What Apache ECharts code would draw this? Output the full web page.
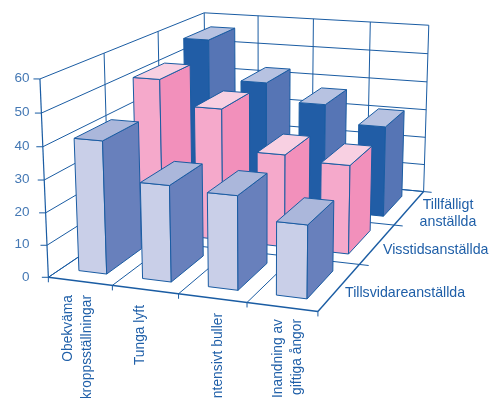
<!DOCTYPE html>
<html>
<head>
<meta charset="utf-8">
<style>html,body{margin:0;padding:0;background:#fff}#c{width:489px;height:398px}</style>
<script src="https://cdn.jsdelivr.net/npm/echarts@6/dist/echarts.min.js"></script>
</head>
<body>
<div id="c"></div>
<script>
// Exposure to work-environment factors by type of employment
const categories = ['Obekväma kroppsställningar', 'Tunga lyft', 'Intensivt buller', 'Inandning av giftiga ångor'];
const employment = ['Tillfälligt anställda', 'Visstidsanställda', 'Tillsvidareanställda'];
const valueTicks = [0, 10, 20, 30, 40, 50, 60];
const temporary = [56.5, 43, 37, 31];
const fixedTerm = [51, 43, 30, 28.5];
const permanent = [41, 29.5, 28.5, 22];

const LINE = '#1a5ca3';
const FONT = '14.2px "Liberation Sans", Arial, sans-serif';
const ROT_FONT = '13.8px "Liberation Sans", Arial, sans-serif';
const TICK_FONT = '13.5px "Liberation Sans", Arial, sans-serif';
const BAR_GAP_X = 0.28, BAR_GAP_Z = 0.2;

// Perspective camera fitted to the plot box: [column, depth, value] -> [px, py]
const frameAnchors = [
  [0,0,0,49,277],[1,0,0,111.7,286],[2,0,0,179,294],[3,0,0,246.7,302.7],[4,0,0,318.5,311],
  [4,1,0,359,264],[4,2,0,393,226],[4,3,0,424,191],
  [0,0,30,44,180],[0,0,60,39.5,79],[4,3,30,427,109.3],[4,3,60,428.7,25.3],
  [0,1,60,105,52.7],[0,2,60,158,31],[0,3,60,204,13],
  [1,3,60,257.7,15.7],[2,3,60,313.7,19.3],[3,3,60,370,22.3]
];
function solve(A, b) {
  const n = b.length;
  for (let i = 0; i < n; i++) {
    let m = i;
    for (let r = i + 1; r < n; r++) if (Math.abs(A[r][i]) > Math.abs(A[m][i])) m = r;
    [A[i], A[m]] = [A[m], A[i]]; [b[i], b[m]] = [b[m], b[i]];
    for (let r = i + 1; r < n; r++) {
      const f = A[r][i] / A[i][i];
      for (let c = i; c < n; c++) A[r][c] -= f * A[i][c];
      b[r] -= f * b[i];
    }
  }
  const x = new Array(n).fill(0);
  for (let i = n - 1; i >= 0; i--) {
    let s = b[i];
    for (let c = i + 1; c < n; c++) s -= A[i][c] * x[c];
    x[i] = s / A[i][i];
  }
  return x;
}
function fitCamera(pts) {
  const rows = [], rhs = [];
  pts.forEach(([cx, cz, cv, u0, v0]) => {
    const X = cx / 4, Z = cz / 3, Y = cv / 60, u = u0 / 400, v = v0 / 400;
    rows.push([X, Z, Y, 1, 0, 0, 0, 0, -u * X, -u * Z, -u * Y]); rhs.push(u);
    rows.push([0, 0, 0, 0, X, Z, Y, 1, -v * X, -v * Z, -v * Y]); rhs.push(v);
  });
  const N = [], t = [];
  for (let i = 0; i < 11; i++) {
    N.push([]);
    t.push(rows.reduce((s, r, k) => s + r[i] * rhs[k], 0));
    for (let j = 0; j < 11; j++) N[i].push(rows.reduce((s, r) => s + r[i] * r[j], 0));
  }
  return solve(N, t);
}
const cam = fitCamera(frameAnchors);
function project(cx, cz, cv) {
  const X = cx / 4, Z = cz / 3, Y = cv / 60;
  const w = cam[8] * X + cam[9] * Z + cam[10] * Y + 1;
  return [400 * (cam[0] * X + cam[1] * Z + cam[2] * Y + cam[3]) / w,
          400 * (cam[4] * X + cam[5] * Z + cam[6] * Y + cam[7]) / w];
}

function seg(a, b, width, color) {
  return { type: 'line', shape: { x1: a[0], y1: a[1], x2: b[0], y2: b[1] },
           style: { stroke: color || LINE, lineWidth: width || 1, fill: null } };
}
function label(text, x, y, align, color, rotation, font) {
  return { type: 'text', x, y, rotation: rotation || 0,
           style: { text, x: 0, y: 0, align, verticalAlign: 'middle', font: font || FONT, fill: color || '#1f5fa8' } };
}

// Walls, floor, ticks and axis labels
function renderFrame() {
  const out = [];
  valueTicks.forEach(v => {
    out.push(seg(project(0, 0, v), project(0, 3, v)));
    out.push(seg(project(0, 3, v), project(4, 3, v)));
    const p = project(0, 0, v);
    out.push(seg([p[0] - 6.5, p[1]], p));
    out.push(label(String(v), 29.5, p[1] - 0.5, 'right', '#4478b4', 0, TICK_FONT));
  });
  [1, 2, 3].forEach(z => out.push(seg(project(0, z, 0), project(0, z, 60))));
  [0, 1, 2, 3, 4].forEach(x => {
    if (x) out.push(seg(project(x, 3, 0), project(x, 3, 60)));
    out.push(seg(project(x, 0, 0), project(x, 3, 0), x === 4 ? 1.4 : 1));
    const p = project(x, 0, 0);
    out.push(seg(p, [p[0], p[1] + 5]));
  });
  [1, 2, 3].forEach(z => out.push(seg(project(0, z, 0), project(4.14, z, 0))));
  out.push(seg(project(0, 0, 0), project(0, 0, 60), 1.2));
  out.push(seg(project(0, 0, 0), project(4, 0, 0), 1.4));
  const up = Math.PI / 2;
  out.push(label('Obekväma', 68, 295, 'right', null, up, ROT_FONT));
  out.push(label('kroppsställningar', 87, 295, 'right', null, up, ROT_FONT));
  out.push(label(categories[1], 140, 305, 'right', null, up, ROT_FONT));
  out.push(label(categories[2], 218, 313, 'right', null, up, ROT_FONT));
  out.push(label('Inandning av', 278, 319, 'right', null, up, ROT_FONT));
  out.push(label('giftiga ångor', 297, 319, 'right', null, up, ROT_FONT));
  out.push(label('Tillfälligt', 448, 205.5, 'center'));
  out.push(label('anställda', 448, 222, 'center'));
  out.push(label(employment[1], 383, 250.5, 'left'));
  out.push(label(employment[2], 345, 293, 'left'));
  return { type: 'group', children: out };
}

// One box per datum; the depth row selects its position front to back
function barRenderer(row, colors) {
  return function (params, api) {
    const c = api.value(0), v = api.value(1);
    const x0 = c + BAR_GAP_X, x1 = c + 1 - BAR_GAP_X;
    const z0 = row + BAR_GAP_Z, z1 = row + 1 - BAR_GAP_Z;
    const poly = (pts, fill) => ({ type: 'polygon', shape: { points: pts },
      style: { fill, stroke: LINE, lineWidth: 1, lineJoin: 'round' } });
    return { type: 'group', children: [
      poly([project(x0, z0, 0), project(x1, z0, 0), project(x1, z0, v), project(x0, z0, v)], colors.front),
      poly([project(x1, z0, 0), project(x1, z1, 0), project(x1, z1, v), project(x1, z0, v)], colors.side),
      poly([project(x0, z0, v), project(x1, z0, v), project(x1, z1, v), project(x0, z1, v)], colors.top)
    ] };
  };
}
function barSeries(name, row, values, colors) {
  return { type: 'custom', name, coordinateSystem: 'none', silent: true, animation: false,
           data: values.map((v, i) => [i, v]), renderItem: barRenderer(row, colors) };
}

const chart = echarts.init(document.getElementById('c'), null, { renderer: 'canvas' });
chart.setOption({
  backgroundColor: '#fff',
  animation: false,
  series: [
    { type: 'custom', name: 'frame', coordinateSystem: 'none', silent: true, data: [[0]], renderItem: renderFrame },
    barSeries(employment[0], 2, temporary, { front: '#215da6', side: '#5675b5', top: '#b7c2e1' }),
    barSeries(employment[1], 1, fixedTerm, { front: '#f5a9cb', side: '#f290bb', top: '#f8d0e2' }),
    barSeries(employment[2], 0, permanent, { front: '#c9cfe8', side: '#6880bc', top: '#abb7db' })
  ]
});
</script>
</body>
</html>
